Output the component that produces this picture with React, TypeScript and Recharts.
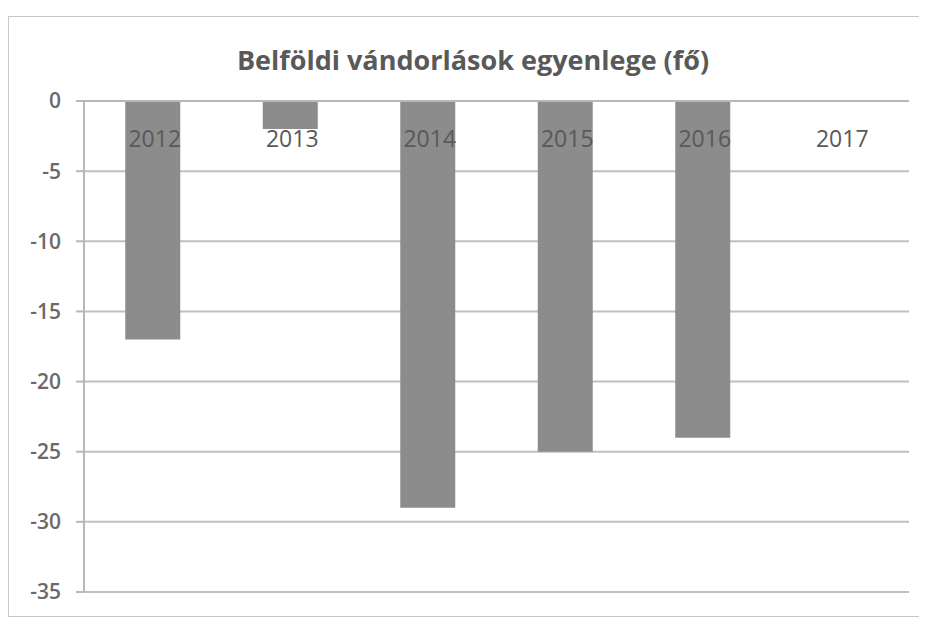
import React from 'react';
import { BarChart, Bar, XAxis, YAxis, CartesianGrid } from 'recharts';

const years = ['2012', '2013', '2014', '2015', '2016', '2017'];
const balance = [-17, -2, -29, -25, -24, 0];
const yTicks = [0, -5, -10, -15, -20, -25, -30, -35];

const data = years.map((year, i) => ({ year, value: balance[i] }));

const FONT = '"Open Sans", sans-serif';

const YearTick = ({ x, y, payload }: any) => (
  <text
    x={x + 2}
    y={y + 48}
    textAnchor="middle"
    dominantBaseline="middle"
    fill="#595959"
    fontSize={23}
    fontFamily={FONT}
    fontWeight={500}
  >
    {payload.value}
  </text>
);

export default function App() {
  return (
    <div
      style={{
        position: 'relative',
        width: 913,
        height: 599,
        marginTop: 8,
        border: '1px solid #c8c8c8',
        background: '#fff',
      }}
    >
      <div
        style={{
          position: 'absolute',
          top: 24,
          left: 0,
          width: 928,
          textAlign: 'center',
          fontFamily: FONT,
          fontWeight: 700,
          fontSize: 27,
          color: '#595959',
        }}
      >
        Belföldi vándorlások egyenlege (fő)
      </div>
      <BarChart
        width={913}
        height={599}
        data={data}
        margin={{ top: 54, right: 13, bottom: 24, left: 0 }}
        barCategoryGap="30%"
      >
        <CartesianGrid vertical={false} stroke="#c0c0c0" strokeWidth={2} />
        <XAxis
          dataKey="year"
          orientation="top"
          height={30}
          tick={<YearTick />}
          tickLine={false}
          axisLine={{ stroke: '#b8b8b8', strokeWidth: 2 }}
        />
        <YAxis
          width={75}
          domain={[-35, 0]}
          ticks={yTicks}
          interval={0}
          tickSize={8}
          tickMargin={15}
          tick={{ fill: '#6a6a6a', fontSize: 21, fontFamily: FONT, fontWeight: 600 }}
          tickLine={{ stroke: '#b8b8b8', strokeWidth: 2 }}
          axisLine={{ stroke: '#b8b8b8', strokeWidth: 2 }}
        />
        <Bar dataKey="value" fill="#8c8c8c" isAnimationActive={false} />
      </BarChart>
    </div>
  );
}
